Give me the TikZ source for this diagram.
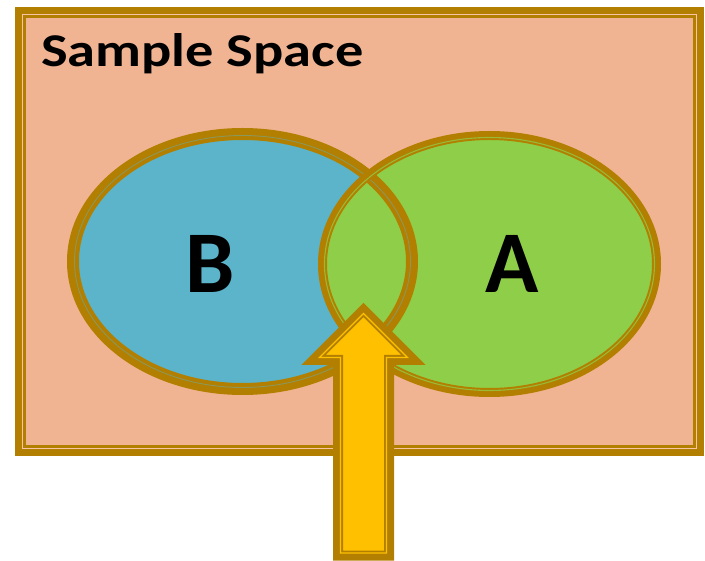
\documentclass[tikz,border=0pt]{standalone}
\usepackage{fontspec}
\usepackage{graphicx}
\newfontfamily\labelfont{Carlito}
\definecolor{spacefill}{RGB}{240,180,146}
\definecolor{spacelight}{RGB}{247,196,166}
\definecolor{rimgold}{RGB}{178,127,0}
\definecolor{setbfill}{RGB}{91,180,201}
\definecolor{setafill}{RGB}{143,206,72}
\definecolor{arrowfill}{RGB}{255,192,0}
\tikzset{
  rim/.style={draw=rimgold, line join=miter},
  gapline/.style={line width=1.1pt},
  biglabel/.style={font=\labelfont\bfseries\fontsize{88}{88}\selectfont, inner sep=0pt, anchor=base},
}
\begin{document}
\begin{tikzpicture}[x=1pt, y=-1pt]
  \useasboundingbox (0,0) rectangle (705,561);

  % sample space frame
  \path[fill=spacefill] (20.5,12.5) rectangle (698.5,450.5);
  \draw[rim, line width=11pt] (20.5,12.5) rectangle (698.5,450.5);
  \draw[draw=spacelight, line width=1.8pt] (22.5,14.5) rectangle (696.5,448.5);
  \node[font=\labelfont\bfseries\fontsize{47}{47}\selectfont, inner sep=0pt, anchor=base west] (title) at (41,67) {\scalebox{1.2}[1]{Sample Space}};

  % the two events
  \fill[setbfill] (242.5,261.5) ellipse [x radius=169.5, y radius=127.5];
  \fill[setafill] (489.5,264) ellipse [x radius=167, y radius=128.5];
  \draw[rim, line width=12pt] (242.5,261.5) ellipse [x radius=169.5, y radius=127.5];
  \draw[rimgold!55!setbfill, line width=0.9pt] (242.5,261.5) ellipse [x radius=168, y radius=126];
  \draw[rim, line width=9pt] (489.5,264) ellipse [x radius=167, y radius=128.5];
  \draw[rimgold!25!setafill, gapline] (489.5,264) ellipse [x radius=165, y radius=126.5];

  \node[biglabel] (labelB) at (210,293) {B};
  \node[biglabel] (labelA) at (512,293) {A};

  % arrow pointing at the intersection
  \draw[rim, fill=arrowfill, line width=10pt]
    (363.5,310) -- (313.5,360) -- (338,360) -- (338,555.5) -- (389,555.5)
    -- (389,360) -- (413.5,360) -- cycle;
  \draw[draw=arrowfill, gapline, line join=miter]
    (363.5,313.5) -- (319.5,357.5) -- (340.5,357.5) -- (340.5,553) -- (386.5,553)
    -- (386.5,357.5) -- (407.5,357.5) -- cycle;
\end{tikzpicture}
\end{document}
